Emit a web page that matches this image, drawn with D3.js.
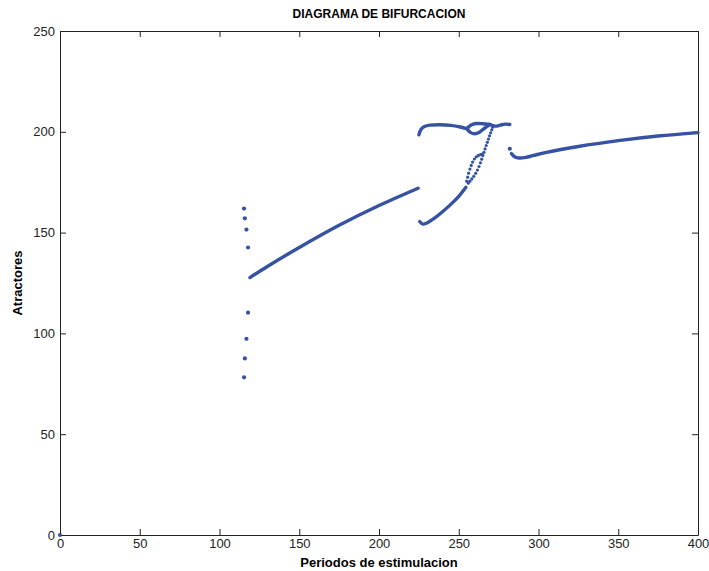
<!DOCTYPE html>
<html>
<head>
<meta charset="utf-8">
<script src="https://cdn.jsdelivr.net/npm/d3@7"></script>
<style>
  body { margin: 0; background: #fff; }
  text { font-family: "Liberation Sans Narrow", "Liberation Sans", Arial, sans-serif; }
</style>
</head>
<body>
<svg id="chart"></svg>
<script>
// tramos continuos (periodo, atractor)
const tramoPrincipal = [[119.1,127.7],[130,133.2],[150,142.6],[175,153.6],[200,163.4],[224.5,172]];
const ramaSuperior = [[225,198.5],[226.3,201.2],[228.5,202.6],[232,203.3],[238,203.5],[245,203.2],[251,202.4],[255,201.6]];
const lazoInferior = [[255,201.6],[257.5,199.6],[260,199],[263,199.8],[266.5,202],[269.5,203.6]];
const lazoSuperior = [[255,201.6],[257.5,203.3],[261,204.1],[265,204],[269.5,203.6]];
const ramaSuperiorFin = [[269.5,203.6],[273,202.8],[276,203.3],[279,203.8],[282,203.6]];
const ramaInferior = [[225.5,155.5],[227.5,154.2],[230,154.8],[235,157.3],[240,160.5],[245,164],[250,168],[254.5,172.5]];
const tramoDerecho = [[283,189.2],[285,187.6],[288,187],[292,187.3],[297,188.3],[305,189.8],[325,192.7],[350,195.6],[375,197.9],[400,199.6]];

// puntos aislados
const puntosSueltos = [[0,0],[115.4,161.9],[115.9,157.1],[116.9,151.5],[117.9,142.6],[117.9,110.3],[116.9,97.3],[115.9,87.6],[115.4,78.2],[282,191.6]];
const puntosIzq = [[255,175.5],[255.6,177.5],[256.2,179.5],[257,181.5],[257.8,183.3],[258.7,185],[259.8,186.5],[261,187.6],[262.3,188.3],[263.6,188.7],[264.8,189]];
const puntosDer = [[256,174.5],[257,175.5],[258.2,176.6],[259.4,177.9],[260.6,179.4],[261.7,181],[262.7,182.8],[263.6,184.6],[264.4,186.4],[265.1,188.2]];
const puntosArriba = [[265.8,189.8],[266.5,191.5],[267.2,193.2],[267.9,194.8],[268.6,196.4],[269.3,198],[270,199.5],[270.7,201],[271.3,202.3]];

const xTicks = [0,50,100,150,200,250,300,350,400];
const yTicks = [0,50,100,150,200,250];

const width = 709, height = 571;
const margin = ({top: 31, right: 11, bottom: 36, left: 60});
const color = "#3652a3";

const svg = d3.select("#chart").attr("width", width).attr("height", height);

let x = d3.scaleLinear()
  .domain([0, 400])
  .range([margin.left, width - margin.right]);

let y = d3.scaleLinear()
  .domain([0, 250])
  .range([height - margin.bottom, margin.top]);

let xAxis = g => g
  .attr("transform", `translate(0,${height - margin.bottom})`)
  .call(d3.axisBottom(x).tickValues(xTicks).tickSizeInner(-6).tickSizeOuter(0).tickPadding(4));

let xTop = g => g
  .attr("transform", `translate(0,${margin.top})`)
  .call(d3.axisTop(x).tickValues(xTicks).tickSizeInner(-6).tickSizeOuter(0).tickFormat(""));

let yAxis = g => g
  .attr("transform", `translate(${margin.left},0)`)
  .call(d3.axisLeft(y).tickValues(yTicks).tickSizeInner(-6).tickSizeOuter(0).tickPadding(5));

let yRight = g => g
  .attr("transform", `translate(${width - margin.right},0)`)
  .call(d3.axisRight(y).tickValues(yTicks).tickSizeInner(-6).tickSizeOuter(0).tickFormat(""));

[xAxis, xTop, yAxis, yRight].forEach(a => {
  svg.append("g").call(a)
    .call(g => g.selectAll("path,line").attr("stroke", "#222"))
    .call(g => g.selectAll("text").attr("font-size", 13).attr("fill", "#222"));
});

const line = d3.line()
  .x(d => x(d[0]))
  .y(d => y(d[1]))
  .curve(d3.curveCatmullRom);

[tramoPrincipal, ramaSuperior, lazoInferior, lazoSuperior, ramaSuperiorFin, ramaInferior, tramoDerecho]
  .forEach(t => {
    svg.append("path")
      .attr("d", line(t))
      .attr("fill", "none")
      .attr("stroke", color)
      .attr("stroke-width", 3.4)
      .attr("stroke-linecap", "round");
  });

svg.append("g").selectAll("circle")
  .data(puntosIzq.concat(puntosDer, puntosArriba))
  .join("circle")
  .attr("cx", d => x(d[0]))
  .attr("cy", d => y(d[1]))
  .attr("r", 1.6)
  .attr("fill", color);

svg.append("g").selectAll("circle")
  .data(puntosSueltos)
  .join("circle")
  .attr("cx", d => x(d[0]))
  .attr("cy", d => y(d[1]))
  .attr("r", 2.1)
  .attr("fill", color);

svg.append("text")
  .attr("x", (margin.left + width - margin.right) / 2)
  .attr("y", 18)
  .attr("text-anchor", "middle")
  .attr("font-size", 12)
  .attr("font-weight", "bold")
  .text("DIAGRAMA DE BIFURCACION");

svg.append("text")
  .attr("x", (margin.left + width - margin.right) / 2)
  .attr("y", 567)
  .attr("text-anchor", "middle")
  .attr("font-size", 13)
  .attr("font-weight", "bold")
  .text("Periodos de estimulacion");

svg.append("text")
  .attr("transform", `translate(22,${(margin.top + height - margin.bottom) / 2}) rotate(-90)`)
  .attr("text-anchor", "middle")
  .attr("font-size", 13)
  .attr("font-weight", "bold")
  .text("Atractores");
</script>
</body>
</html>
